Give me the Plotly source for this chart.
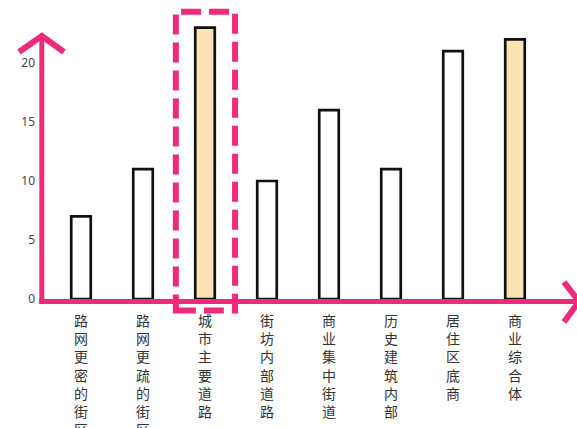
import plotly.graph_objects as go

# Street-type categories and their counts
categories = ["路网更密的街区", "路网更疏的街区", "城市主要道路", "街坊内部道路",
              "商业集中街道", "历史建筑内部", "居住区底商", "商业综合体"]
values = [7, 11, 23, 10, 16, 11, 21, 22]
highlighted = ["城市主要道路", "商业综合体"]
boxed = "城市主要道路"
y_ticks = [0, 5, 10, 15, 20]

PINK = "#EE2A7B"
FILL = "#F9E2B4"
W, H = 577, 428
ML, MB = 42, 129

x_range = [-0.629, -0.629 + (W - ML) / 62.0]
y_range = [0, (H - MB) / 11.8]

# vertical tick labels: one character per line
tick_text = ["<br>".join(list(c)) for c in categories]

fig = go.Figure(go.Bar(
    x=list(range(len(categories))),
    y=values,
    width=0.315,
    marker=dict(
        color=[FILL if c in highlighted else "rgba(255,255,255,0)" for c in categories],
        line=dict(color="#111111", width=2.7),
    ),
    hoverinfo="skip",
))


def px(d):
    return (d - x_range[0]) / (x_range[1] - x_range[0])


def py(v):
    return (v - y_range[0]) / (y_range[1] - y_range[0])


# pixel helpers for the hand-drawn axes
def ppx(p):
    return (p - ML) / (W - ML)


def ppy(p):
    return ((H - MB) - p) / (H - MB)


shapes = []
# y axis with arrow
shapes.append(dict(type="line", xref="paper", yref="paper",
                   x0=ppx(41.8), x1=ppx(41.8), y0=ppy(304), y1=ppy(38),
                   line=dict(color=PINK, width=5)))
shapes.append(dict(type="path", xref="paper", yref="paper",
                   path=f"M {ppx(19)} {ppy(52)} L {ppx(41.8)} {ppy(36)} L {ppx(64)} {ppy(52)}",
                   line=dict(color=PINK, width=6)))
# x axis with arrow
shapes.append(dict(type="line", xref="paper", yref="paper",
                   x0=ppx(39.3), x1=ppx(576), y0=ppy(301.5), y1=ppy(301.5),
                   line=dict(color=PINK, width=5)))
shapes.append(dict(type="path", xref="paper", yref="paper",
                   path=f"M {ppx(564)} {ppy(282)} L {ppx(579)} {ppy(301.5)} L {ppx(564)} {ppy(322)}",
                   line=dict(color=PINK, width=6)))

# dashed box around the boxed category
i = categories.index(boxed)
shapes.append(dict(type="rect", xref="paper", yref="paper",
                   x0=px(i - 0.47), x1=px(i + 0.485),
                   y0=py(-0.97), y1=py(values[i] + 1.35),
                   line=dict(color=PINK, width=6, dash="20px,8px"),
                   fillcolor="rgba(0,0,0,0)"))

fig.update_layout(
    width=W, height=H,
    margin=dict(l=ML, r=0, t=0, b=MB, autoexpand=False),
    paper_bgcolor="white", plot_bgcolor="white",
    showlegend=False,
    shapes=shapes,
    xaxis=dict(
        range=x_range,
        automargin=False,
        tickmode="array",
        tickvals=list(range(len(categories))),
        ticktext=tick_text,
        tickangle=0,
        showgrid=False, zeroline=False, showline=False, ticks="",
        ticklabelstandoff=12,
        tickfont=dict(family="Noto Sans CJK SC", size=14, color="#333333"),
    ),
    yaxis=dict(
        range=y_range,
        automargin=False,
        tickmode="array",
        tickvals=y_ticks,
        ticktext=[str(t) for t in y_ticks],
        showgrid=False, zeroline=False, showline=False, ticks="",
        ticklabelstandoff=6,
        tickfont=dict(family="Noto Sans", size=12, color="#444444"),
    ),
)

fig.write_html("out.html")
